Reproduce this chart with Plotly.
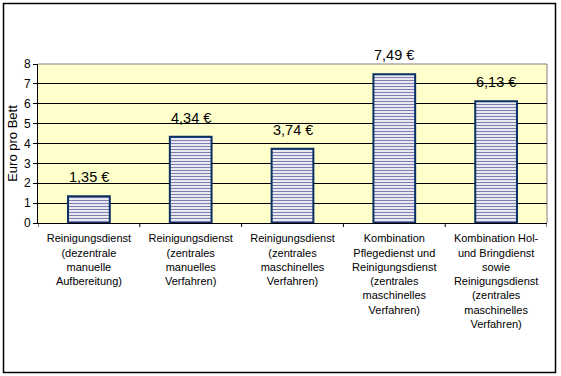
import plotly.graph_objects as go

categories = [
    "Reinigungsdienst<br>(dezentrale<br>manuelle<br>Aufbereitung)",
    "Reinigungsdienst<br>(zentrales<br>manuelles<br>Verfahren)",
    "Reinigungsdienst<br>(zentrales<br>maschinelles<br>Verfahren)",
    "Kombination<br>Pflegedienst und<br>Reinigungsdienst<br>(zentrales<br>maschinelles<br>Verfahren)",
    "Kombination Hol-<br>und Bringdienst<br>sowie<br>Reinigungsdienst<br>(zentrales<br>maschinelles<br>Verfahren)",
]
values = [1.35, 4.34, 3.74, 7.49, 6.13]
value_labels = ["1,35 €", "4,34 €", "3,74 €", "7,49 €", "6,13 €"]
y_ticks = [0, 1, 2, 3, 4, 5, 6, 7, 8]

FONT = "Liberation Sans, Arial, sans-serif"

fig = go.Figure()
fig.add_trace(go.Bar(
    x=list(range(len(categories))),
    y=values,
    width=0.41,
    marker=dict(
        color="white",
        line=dict(color="#0A2F63", width=2),
        pattern=dict(shape="-", fgcolor="#000066", bgcolor="white", size=3, solidity=0.45),
    ),
    hoverinfo="skip",
))

for i, (v, t) in enumerate(zip(values, value_labels)):
    fig.add_annotation(x=i, y=v, text=t, showarrow=False, yanchor="middle", yshift=19,
                       font=dict(family=FONT, size=14.5, color="black"))

W, H = 561, 376
L, R, T, B = 38, 14, 64, 153
pw, ph = W - L - R, H - T - B

def px(x):
    return (x - L) / pw

def py(y):
    return 1 - (y - T) / ph

# outer frame
fig.add_shape(type="rect", xref="paper", yref="paper",
              x0=px(3.5), x1=px(555.5), y0=py(372.5), y1=py(3.5),
              line=dict(color="black", width=1.5), layer="above")
# gray top/right plot border
fig.add_shape(type="line", xref="paper", yref="paper", x0=0, x1=1, y0=1, y1=1,
              line=dict(color="#808080", width=1), layer="below")
fig.add_shape(type="line", xref="paper", yref="paper", x0=1, x1=1, y0=0, y1=1,
              line=dict(color="#808080", width=1), layer="below")

fig.update_layout(
    width=W, height=H,
    margin=dict(l=L, r=R, t=T, b=B, pad=0, autoexpand=False),
    paper_bgcolor="white",
    plot_bgcolor="#FFFFCC",
    showlegend=False,
    font=dict(family=FONT, color="black"),
    xaxis=dict(
        tickmode="array",
        tickvals=list(range(len(categories))),
        ticktext=categories,
        range=[-0.5, len(categories) - 0.5],
        showgrid=False,
        showline=True, linecolor="black", linewidth=1,
        ticks="", tickfont=dict(family=FONT, size=11, color="black"),
        ticklabelstandoff=5,
        zeroline=False,
        automargin=False,
    ),
    yaxis=dict(
        range=[0, 8],
        tickvals=y_ticks,
        showgrid=True, gridcolor="black", gridwidth=1,
        showline=True, linecolor="black", linewidth=1,
        ticks="outside", ticklen=4, tickcolor="black",
        tickfont=dict(family=FONT, size=12, color="black"),
        title=dict(text="Euro pro Bett", font=dict(family=FONT, size=13, color="black"), standoff=3),
        zeroline=False,
        automargin=False,
    ),
)

# x tick marks at category boundaries
for b in [i - 0.5 for i in range(len(categories) + 1)]:
    fig.add_shape(type="line", xref="x", yref="paper", x0=b, x1=b, y0=0, y1=-4 / ph,
                  line=dict(color="black", width=1), layer="above")

fig.write_html("out.html", config={"displayModeBar": False},
               post_script="document.body.style.margin='0';document.body.style.overflow='hidden';")
